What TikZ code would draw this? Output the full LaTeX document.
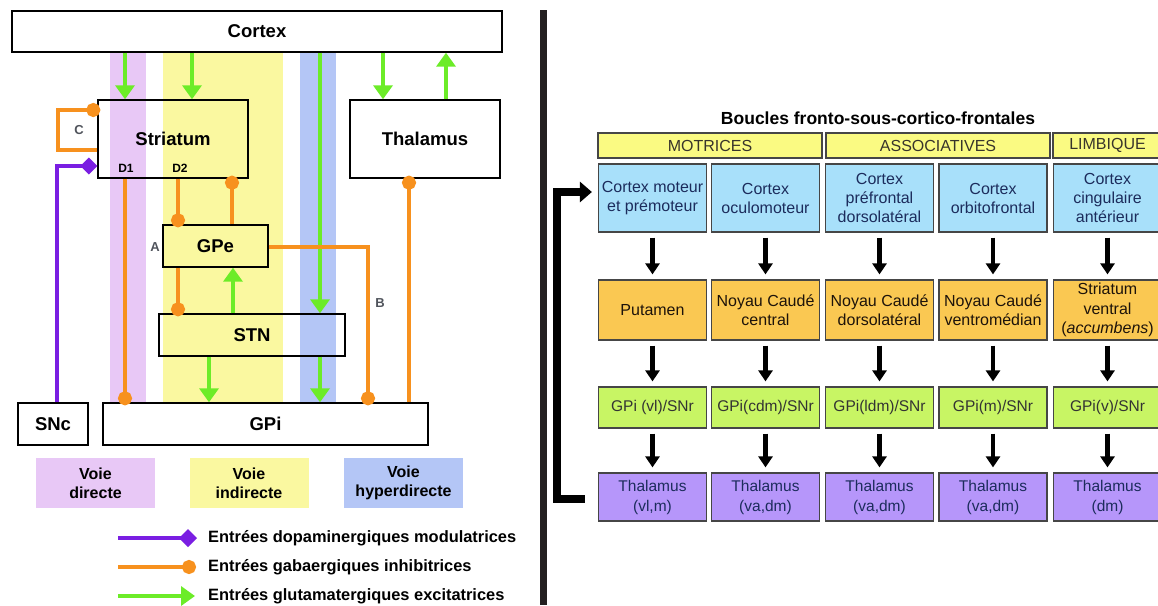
\documentclass[tikz,border=0pt]{standalone}
\usepackage{fontspec}
\setmainfont{Liberation Sans}
\usetikzlibrary{arrows.meta}

% couleurs des voies et des entrees
\definecolor{voiedir}{RGB}{232,200,246}
\definecolor{voieind}{RGB}{250,248,160}
\definecolor{voiehyp}{RGB}{180,198,246}
\definecolor{gaba}{RGB}{247,145,30}
\definecolor{gluta}{RGB}{108,236,40}
\definecolor{dopa}{RGB}{122,30,226}
\definecolor{taggray}{RGB}{80,84,92}
\definecolor{divider}{RGB}{35,31,32}
% couleurs des boucles
\definecolor{hdrfill}{RGB}{250,250,130}
\definecolor{ctxfill}{RGB}{168,224,250}
\definecolor{strfill}{RGB}{250,200,82}
\definecolor{gpifill}{RGB}{200,245,100}
\definecolor{thafill}{RGB}{182,150,250}
\definecolor{boxline}{RGB}{70,70,70}
\definecolor{navytext}{RGB}{28,44,92}

\tikzset{
  nucleus/.style={draw, line width=1.4pt, inner sep=0pt, font=\bfseries\fontsize{18.5}{20}\selectfont},
  tag/.style={text=taggray, font=\bfseries\fontsize{13}{14}\selectfont},
  dtag/.style={font=\bfseries\fontsize{12}{13}\selectfont},
  voie/.style={inner sep=0pt, minimum width=119pt, minimum height=50pt, align=center,
    font=\bfseries\fontsize{16}{19}\selectfont},
  legtxt/.style={anchor=west, inner sep=0pt, font=\bfseries\fontsize{16.4}{18}\selectfont},
  exc/.style={gluta, line width=4.5pt, -{Triangle[length=14pt,width=19pt]}},
  inhib/.style={gaba, line width=4.5pt, -{Circle[length=14pt]}, shorten >=-3pt},
  dopaline/.style={dopa, line width=4.5pt},
  rbox/.style={draw=boxline, line width=1.2pt, inner sep=0pt, minimum width=108pt, align=center},
  hdr/.style={rbox, fill=hdrfill, minimum height=25pt, text=black!80!olive, font=\fontsize{16}{18}\selectfont},
  cxbox/.style={rbox, fill=ctxfill, minimum height=68pt, text=navytext, font=\fontsize{16}{19}\selectfont},
  stbox/.style={rbox, fill=strfill, minimum height=60pt, text=black!85!brown, font=\fontsize{16}{19.5}\selectfont},
  gpbox/.style={rbox, fill=gpifill, minimum height=41pt, text=black!80, font=\fontsize{15.5}{18}\selectfont},
  thbox/.style={rbox, fill=thafill, minimum height=48pt, text=navytext, font=\fontsize{15.5}{20}\selectfont},
  down/.style={line width=4.5pt, -{Triangle[length=11pt,width=14pt]}, shorten <=5pt, shorten >=5pt}
}

\begin{document}
\begin{tikzpicture}[x=1pt,y=-1pt]
\useasboundingbox (0,0) rectangle (1158,605);
\clip (0,0) rectangle (1158,605);
\fill[white] (0,0) rectangle (1158,605);

% bandes des trois voies
\fill[voiedir] (110,53) rectangle (146,403);
\fill[voieind] (163,53) rectangle (283,403);
\fill[voiehyp] (300,53) rectangle (336,403);

% noyaux
\node[nucleus, fill=white, minimum width=490pt, minimum height=41pt] (cortex) at (257,31.5) {Cortex};
\node[nucleus, minimum width=150pt, minimum height=78pt] (striatum) at (173,139) {Striatum};
\node[nucleus, minimum width=150pt, minimum height=78pt] (thalamus) at (425,139) {Thalamus};
\node[nucleus, minimum width=105pt, minimum height=42pt] (gpe) at (215.5,246) {GPe};
\node[nucleus, minimum width=186pt, minimum height=42pt] (stn) at (252,335) {STN};
\node[nucleus, fill=white, minimum width=325pt, minimum height=42pt] (gpi) at (265.5,424) {GPi};
\node[nucleus, fill=white, minimum width=70pt, minimum height=42pt] (snc) at (53,424) {SNc};

\node[dtag] (d1) at (126,168) {D1};
\node[dtag] (d2) at (180,168) {D2};
\node[tag] (lblC) at (79,130) {C};
\node[tag] (lblA) at (155,247) {A};
\node[tag] (lblB) at (380,303) {B};

% entrees glutamatergiques
\draw[exc] (cortex.south -| 125,0) -- (striatum.north -| 125,0);
\draw[exc] (cortex.south -| 192,0) -- (striatum.north -| 192,0);
\draw[exc] (cortex.south -| 383,0) -- (thalamus.north -| 383,0);
\draw[exc] (thalamus.north -| 446,0) -- (cortex.south -| 446,0);
\draw[exc] (cortex.south -| 320,0) -- (stn.north -| 320,0);
\draw[exc] (stn.south -| 320,0) -- (gpi.north -| 320,0);
\draw[exc] (stn.north -| 233,0) -- (gpe.south -| 233,0);
\draw[exc] (stn.south -| 209,0) -- (gpi.north -| 209,0);

% entrees gabaergiques
\draw[inhib] (striatum.south -| 125,0) -- (gpi.north -| 125,0);
\draw[inhib] (striatum.south -| 178,0) -- (gpe.north -| 178,0);
\draw[inhib] (gpe.north -| 232,0) -- (striatum.south -| 232,0);
\draw[inhib] (gpe.south -| 178,0) -- (stn.north -| 178,0);
\draw[inhib] (gpe.east |- 0,247) -| (gpi.north -| 368,0);
\draw[inhib] (gpi.north -| 409,0) -- (thalamus.south -| 409,0);
\draw[inhib] (striatum.west |- 0,150) -| (58,110) -- (striatum.west |- 0,110);

% entree dopaminergique
\draw[dopaline, -{Diamond[length=17pt,width=17pt]}] (snc.north -| 57,0) |- (striatum.west |- 0,166);

% legende des voies
\node[voie, fill=voiedir] (vdir) at (95.5,483) {Voie\\directe};
\node[voie, fill=voieind] (vind) at (249,483) {Voie\\indirecte};
\node[voie, fill=voiehyp] (vhyp) at (403.5,483) {Voie\\hyperdirecte};

\node[legtxt] (legdopa) at (208,538) {Entrées dopaminergiques modulatrices};
\node[legtxt] (leggaba) at (208,567) {Entrées gabaergiques inhibitrices};
\node[legtxt] (leggluta) at (208,596) {Entrées glutamatergiques excitatrices};
\draw[dopaline, -{Diamond[length=18pt,width=18pt]}] ([xshift=-90pt]legdopa.west) -- ([xshift=-11pt]legdopa.west);
\draw[inhib] ([xshift=-90pt]leggaba.west) -- ([xshift=-15pt]leggaba.west);
\draw[exc] ([xshift=-90pt]leggluta.west) -- ([xshift=-13pt]leggluta.west);

% separation
\fill[divider] (540,10) rectangle (547,605);

% boucles fronto-sous-cortico-frontales
\node[font=\bfseries\fontsize{17.5}{19}\selectfont] (title) at (878,118) {Boucles fronto-sous-cortico-frontales};
\node[hdr, minimum width=224pt] (hdrmot) at (710,145.5) {MOTRICES};
\node[hdr, minimum width=224pt] (hdrass) at (938,145.5) {ASSOCIATIVES};
\node[hdr, minimum width=109pt] (hdrlim) at (1107.5,145.5) {LIMBIQUE};

\node[cxbox] (cx1) at (652.5,198) {Cortex moteur\\et prémoteur};
\node[cxbox] (cx2) at (765.5,198) {Cortex\\oculomoteur};
\node[cxbox] (cx3) at (879.5,198) {Cortex\\préfrontal\\dorsolatéral};
\node[cxbox] (cx4) at (993,198) {Cortex\\orbitofrontal};
\node[cxbox] (cx5) at (1107.5,198) {Cortex\\cingulaire\\antérieur};

\node[stbox] (st1) at (652.5,310) {Putamen};
\node[stbox] (st2) at (765.5,310) {Noyau Caudé\\central};
\node[stbox] (st3) at (879.5,310) {Noyau Caudé\\dorsolatéral};
\node[stbox] (st4) at (993,310) {Noyau Caudé\\ventromédian};
\node[stbox] (st5) at (1107.5,310) {Striatum\\ventral\\(\textit{accumbens})};

\node[gpbox] (gp1) at (652.5,407.5) {GPi (vl)/SNr};
\node[gpbox] (gp2) at (765.5,407.5) {GPi(cdm)/SNr};
\node[gpbox] (gp3) at (879.5,407.5) {GPi(ldm)/SNr};
\node[gpbox] (gp4) at (993,407.5) {GPi(m)/SNr};
\node[gpbox] (gp5) at (1107.5,407.5) {GPi(v)/SNr};

\node[thbox] (th1) at (652.5,497) {Thalamus\\(vl,m)};
\node[thbox] (th2) at (765.5,497) {Thalamus\\(va,dm)};
\node[thbox] (th3) at (879.5,497) {Thalamus\\(va,dm)};
\node[thbox] (th4) at (993,497) {Thalamus\\(va,dm)};
\node[thbox] (th5) at (1107.5,497) {Thalamus\\(dm)};

\foreach \n in {1,...,5} {
  \draw[down] (cx\n.south) -- (st\n.north);
  \draw[down] (st\n.south) -- (gp\n.north);
  \draw[down] (gp\n.south) -- (th\n.north);
}

% retour thalamus -> cortex
\draw[line width=7.5pt, line join=miter, -{Triangle[length=12pt,width=20pt]}, shorten >=6pt]
  (th1.west) ++(-13,2) -| (557,192) -- (cx1.west |- 0,192);
\end{tikzpicture}
\end{document}
